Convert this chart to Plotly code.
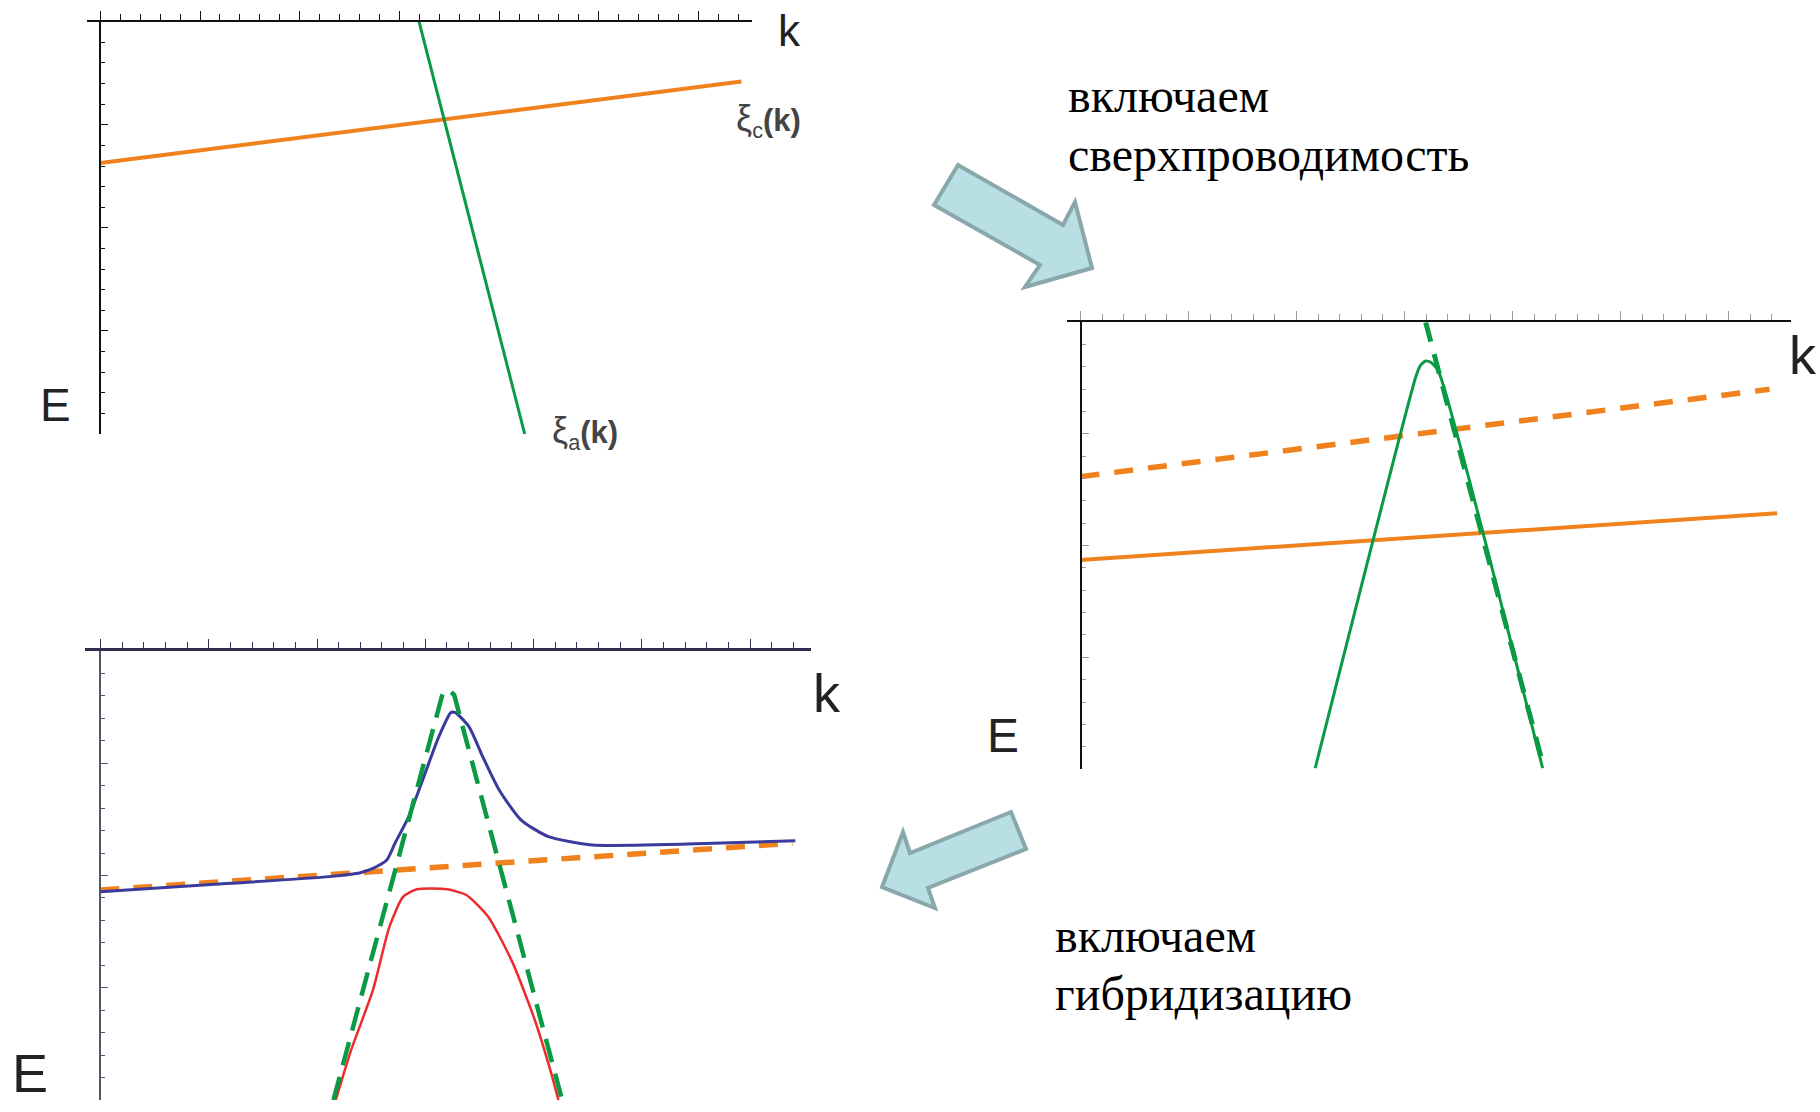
import plotly.graph_objects as go

W, H = 1820, 1112

# ---------------- data (k, E in axis units) ----------------
# panel 1: bare bands
k_xi_c = [0.0, 6.43]
E_xi_c = [-1.371, -0.581]
k_xi_a = [3.197, 4.257]
E_xi_a = [0.0, -4.0]

# panel 2: superconductivity switched on
k2_c_dash = [0.0, 6.38]
E2_c_dash = [-1.382, -0.600]
k2_c_solid = [0.0, 6.45]
E2_c_solid = [-2.128, -1.710]
k2_a_dash = [3.196, 4.288]
E2_a_dash = [0.0, -3.98]
k2_a_solid = [2.173, 3.105, 3.151, 3.196, 3.242, 3.310, 4.279]
E2_a_solid = [-3.993, -0.487, -0.382, -0.346, -0.358, -0.427, -3.993]

# panel 3: hybridization switched on
k3_c_dash = [0.0, 6.39]
E3_c_dash = [-2.129, -1.713]
k3_a_dash = [2.152, 3.165, 3.216, 3.267, 4.255]
E3_a_dash = [-4.0, -0.362, -0.347, -0.392, -3.97]
k3_upper = [0.0, 1.2, 2.112, 2.40, 2.517, 2.644, 2.72, 2.847, 2.998, 3.125, 3.236,
            3.277, 3.403, 3.53, 3.682, 3.885, 4.138, 4.543, 5.658, 6.417]
E3_upper = [-2.144, -2.07, -2.01, -1.975, -1.936, -1.862, -1.713, -1.476, -1.09, -0.763, -0.549,
            -0.549, -0.674, -0.941, -1.238, -1.506, -1.654, -1.728, -1.713, -1.69]
k3_lower = [2.173, 2.315, 2.517, 2.669, 2.796, 2.922, 3.201, 3.379, 3.581, 3.809,
            4.011, 4.163, 4.229]
E3_lower = [-4.0, -3.555, -3.02, -2.456, -2.189, -2.123, -2.123, -2.174, -2.367, -2.783,
            -3.287, -3.762, -4.0]

ORANGE = '#F0821E'
GREEN = '#0A9A44'
BLUE = '#3B3B9E'
RED = '#EE2B2B'


def px(x):
    return x / W


def py(y):
    return 1 - y / H


fig = go.Figure()

# panel 1
fig.add_trace(go.Scatter(x=k_xi_c, y=E_xi_c, mode='lines', line=dict(color=ORANGE, width=4),
                         xaxis='x', yaxis='y'))
fig.add_trace(go.Scatter(x=k_xi_a, y=E_xi_a, mode='lines', line=dict(color=GREEN, width=3),
                         xaxis='x', yaxis='y'))
# panel 2
fig.add_trace(go.Scatter(x=k2_c_dash, y=E2_c_dash, mode='lines',
                         line=dict(color=ORANGE, width=5.5, dash='19px,15px'), xaxis='x2', yaxis='y2'))
fig.add_trace(go.Scatter(x=k2_c_solid, y=E2_c_solid, mode='lines',
                         line=dict(color=ORANGE, width=4), xaxis='x2', yaxis='y2'))
fig.add_trace(go.Scatter(x=k2_a_solid, y=E2_a_solid, mode='lines',
                         line=dict(color=GREEN, width=3, shape='spline', smoothing=0.5),
                         xaxis='x2', yaxis='y2'))
fig.add_trace(go.Scatter(x=k2_a_dash, y=E2_a_dash, mode='lines',
                         line=dict(color=GREEN, width=5, dash='20px,13px'), xaxis='x2', yaxis='y2'))
# panel 3
fig.add_trace(go.Scatter(x=k3_c_dash, y=E3_c_dash, mode='lines',
                         line=dict(color=ORANGE, width=5.5, dash='19px,14px'), xaxis='x3', yaxis='y3'))
fig.add_trace(go.Scatter(x=k3_upper, y=E3_upper, mode='lines',
                         line=dict(color=BLUE, width=3, shape='spline', smoothing=0.6),
                         xaxis='x3', yaxis='y3'))
fig.add_trace(go.Scatter(x=k3_lower, y=E3_lower, mode='lines',
                         line=dict(color=RED, width=2.5, shape='spline', smoothing=0.6),
                         xaxis='x3', yaxis='y3'))
fig.add_trace(go.Scatter(x=k3_a_dash, y=E3_a_dash, mode='lines',
                         line=dict(color=GREEN, width=4.5, dash='24px,12px'), xaxis='x3', yaxis='y3'))


def xax(x0, x1, xorig, unit, color_line, color_tick, lw):
    return dict(domain=[px(x0), px(x1)], range=[(x0 - xorig) / unit, (x1 - xorig) / unit],
                side='top', showline=True, linecolor=color_line, linewidth=lw,
                ticks='outside', tick0=0, dtick=1, ticklen=9, tickwidth=1, tickcolor=color_tick,
                minor=dict(tick0=0, dtick=0.2, ticks='outside', ticklen=6, tickwidth=1,
                           tickcolor=color_tick, showgrid=False),
                showticklabels=False, showgrid=False, zeroline=False, fixedrange=True)


def yax(y_top, y_bot, xpos, color_line, color_tick, lw):
    return dict(domain=[py(y_bot), py(y_top)], range=[-4, 0], anchor='free', position=px(xpos),
                showline=True, linecolor=color_line, linewidth=lw,
                ticks='inside', tick0=0, dtick=1, ticklen=7, tickwidth=1, tickcolor=color_tick,
                minor=dict(tick0=0, dtick=0.2, ticks='inside', ticklen=4, tickwidth=1,
                           tickcolor=color_tick, showgrid=False),
                showticklabels=False, showgrid=False, zeroline=False, fixedrange=True)


layout = dict(
    width=W, height=H, margin=dict(l=0, r=0, t=0, b=0),
    paper_bgcolor='white', plot_bgcolor='rgba(0,0,0,0)', showlegend=False,
    xaxis=dict(xax(86.7, 752, 100.3, 99.7, '#111', '#111', 2), anchor='y'),
    yaxis=yax(21.7, 434, 100.3, '#111', '#111', 2),
    xaxis2=dict(xax(1067, 1790.7, 1080.5, 108, '#111', '#9a9a9a', 2), anchor='y2'),
    yaxis2=yax(322.3, 769, 1080.5, '#111', '#9a9a9a', 2),
    xaxis3=dict(xax(85, 810.7, 100.4, 108.3, '#2f2f4f', '#2f2f4f', 3), anchor='y3'),
    yaxis3=yax(651, 1100, 100.4, '#55556a', '#55556a', 2),
)
fig.update_layout(**layout)

ann = []


def label(text, x, y, size, family='Liberation Sans', color='#222', xanchor='center'):
    ann.append(dict(text=text, x=px(x), y=py(y), xref='paper', yref='paper', showarrow=False,
                    xanchor=xanchor, yanchor='middle',
                    font=dict(family=family, size=size, color=color)))


# axis labels
label('k', 789.5, 30, 44)
label('E', 55.5, 405, 46)
label('k', 1803, 355, 54)
label('E', 1003, 735, 48)
label('k', 827, 693, 54)
label('E', 30, 1073, 54)

# band labels
label('<span style="font-size:36px">ξ</span><sub>c</sub><b>(k)</b>', 768, 121, 31, color='#444')
label('<span style="font-size:36px">ξ</span><sub>a</sub><b>(k)</b>', 585, 432, 31, color='#444')

# text
serif = 'Liberation Serif'
label('включаем', 1066, 95.5, 48, family=serif, color='black', xanchor='left')
label('сверхпроводимость', 1066, 154.5, 48, family=serif, color='black', xanchor='left')
label('включаем', 1053, 935.5, 48, family=serif, color='black', xanchor='left')
label('гибридизацию', 1053, 993.5, 48, family=serif, color='black', xanchor='left')

fig.update_layout(annotations=ann)


def path(points):
    s = 'M ' + ' L '.join(f'{px(x):.5f},{py(y):.5f}' for x, y in points) + ' Z'
    return s


arrow1 = [(958, 165), (1063, 225), (1075, 202), (1092, 268), (1025, 287), (1040, 265), (934, 205)]
arrow2 = [(1011, 812), (1026, 849), (928, 888), (935, 908), (882, 887), (903, 832), (910, 853)]

fig.update_layout(shapes=[
    dict(type='path', path=path(arrow1), xref='paper', yref='paper',
         fillcolor='#B8E0E4', line=dict(color='#8AA8AB', width=4)),
    dict(type='path', path=path(arrow2), xref='paper', yref='paper',
         fillcolor='#B8E0E4', line=dict(color='#8AA8AB', width=4)),
])

fig.write_html('out.html', config=dict(displayModeBar=False),
               post_script="document.body.style.margin='0';document.body.style.padding='0';")
